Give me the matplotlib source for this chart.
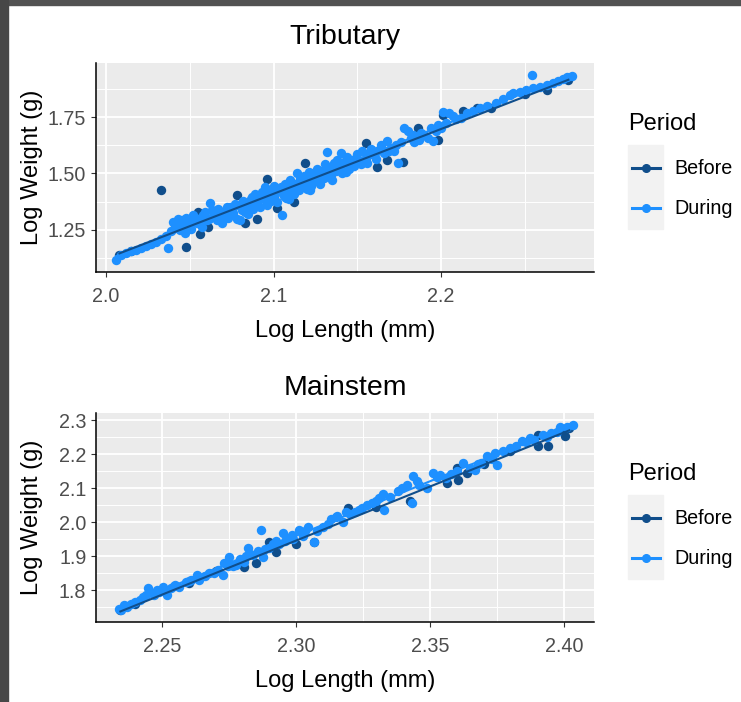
import matplotlib
matplotlib.use("Agg")
import matplotlib.pyplot as plt
from matplotlib.patches import Rectangle
from matplotlib.lines import Line2D
import numpy as np

plt.rcParams["font.family"] = ["Liberation Sans", "DejaVu Sans"]

# --- data (log10 length / log10 weight) ---
trib_during_x = [2.006, 2.009, 2.012, 2.015, 2.018, 2.021, 2.024, 2.027, 2.030, 2.033, 2.036, 2.037,
                 2.039, 2.040, 2.041, 2.043, 2.044, 2.046, 2.047, 2.048, 2.050, 2.051, 2.052, 2.054,
                 2.055, 2.057, 2.058, 2.060, 2.062, 2.063, 2.064, 2.066, 2.067, 2.068, 2.069, 2.071,
                 2.073, 2.074, 2.076, 2.077, 2.078, 2.080, 2.081, 2.082, 2.084, 2.085, 2.086, 2.087,
                 2.088, 2.089, 2.090, 2.091, 2.092, 2.093, 2.094, 2.095, 2.096, 2.097, 2.098, 2.099,
                 2.100, 2.101, 2.102, 2.103, 2.104, 2.105, 2.106, 2.107, 2.108, 2.109, 2.110, 2.111,
                 2.112, 2.113, 2.114, 2.115, 2.116, 2.117, 2.118, 2.119, 2.120, 2.121, 2.122, 2.123,
                 2.124, 2.125, 2.126, 2.127, 2.128, 2.129, 2.130, 2.131, 2.132, 2.133, 2.134, 2.135,
                 2.136, 2.137, 2.138, 2.139, 2.140, 2.141, 2.142, 2.144, 2.145, 2.147, 2.148, 2.150,
                 2.151, 2.153, 2.155, 2.156, 2.158, 2.160, 2.162, 2.164, 2.166, 2.168, 2.170, 2.172,
                 2.174, 2.176, 2.178, 2.180, 2.182, 2.184, 2.186, 2.188, 2.190, 2.192, 2.195, 2.197,
                 2.198, 2.200, 2.201, 2.203, 2.205, 2.207, 2.209, 2.212, 2.2155, 2.219, 2.223, 2.2275,
                 2.233, 2.237, 2.241, 2.243, 2.247, 2.251, 2.254, 2.255, 2.259, 2.263, 2.267, 2.270,
                 2.273, 2.275, 2.278,
                 2.0425, 2.0455, 2.049, 2.053, 2.056, 2.059, 2.0615, 2.065, 2.070, 2.072, 2.075,
                 2.079, 2.083, 2.0865, 2.0895, 2.0925, 2.0955, 2.0985, 2.1015, 2.1045, 2.1075,
                 2.1105, 2.1135, 2.1165, 2.1195, 2.1225, 2.1255, 2.1285, 2.1315, 2.1345, 2.1375,
                 2.1405, 2.1435, 2.146, 2.149, 2.152, 2.157, 2.161, 2.165, 2.169, 2.173, 2.183,
                 2.187, 2.194]
trib_during_y = [1.117, 1.140, 1.148, 1.155, 1.163, 1.172, 1.180, 1.190, 1.198, 1.210, 1.222, 1.170,
                 1.245, 1.285, 1.262, 1.300, 1.250, 1.272, 1.235, 1.305, 1.290, 1.255, 1.315, 1.282,
                 1.300, 1.262, 1.318, 1.295, 1.370, 1.340, 1.310, 1.295, 1.345, 1.325, 1.280, 1.335,
                 1.305, 1.350, 1.325, 1.365, 1.300, 1.295, 1.340, 1.380, 1.355, 1.320, 1.370, 1.395,
                 1.345, 1.410, 1.375, 1.395, 1.350, 1.420, 1.385, 1.440, 1.360, 1.405, 1.425, 1.390,
                 1.445, 1.410, 1.375, 1.430, 1.427, 1.316, 1.400, 1.455, 1.420, 1.385, 1.470, 1.440,
                 1.410, 1.455, 1.500, 1.425, 1.475, 1.445, 1.490, 1.460, 1.430, 1.505, 1.427, 1.480,
                 1.500, 1.465, 1.520, 1.490, 1.455, 1.510, 1.480, 1.540, 1.595, 1.500, 1.525, 1.470,
                 1.545, 1.510, 1.560, 1.530, 1.590, 1.500, 1.550, 1.575, 1.520, 1.560, 1.535, 1.585,
                 1.555, 1.600, 1.570, 1.545, 1.610, 1.580, 1.600, 1.625, 1.590, 1.645, 1.615, 1.600,
                 1.547, 1.640, 1.700, 1.690, 1.655, 1.640, 1.665, 1.680, 1.670, 1.657, 1.645, 1.690,
                 1.715, 1.700, 1.770, 1.725, 1.767, 1.754, 1.740, 1.745, 1.768, 1.775, 1.790, 1.800,
                 1.810, 1.830, 1.847, 1.856, 1.862, 1.870, 1.936, 1.877, 1.883, 1.893, 1.900, 1.910,
                 1.918, 1.925, 1.930,
                 1.275, 1.292, 1.262, 1.302, 1.285, 1.330, 1.300, 1.322, 1.318, 1.352, 1.340,
                 1.362, 1.330, 1.385, 1.360, 1.392, 1.415, 1.378, 1.428, 1.442, 1.392,
                 1.455, 1.432, 1.462, 1.478, 1.445, 1.488, 1.475, 1.512, 1.495, 1.528,
                 1.522, 1.505, 1.548, 1.570, 1.540, 1.588, 1.565, 1.605, 1.600, 1.625, 1.672,
                 1.650, 1.700]
trib_before_x = [2.008, 2.015, 2.033, 2.048, 2.055, 2.056, 2.061, 2.070, 2.078, 2.083, 2.090, 2.096,
                 2.100, 2.102, 2.112, 2.119, 2.130, 2.145, 2.155, 2.162, 2.168, 2.177, 2.186, 2.190,
                 2.198, 2.201, 2.213, 2.2215, 2.230, 2.250, 2.263, 2.276]
trib_before_y = [1.140, 1.158, 1.427, 1.175, 1.330, 1.230, 1.265, 1.330, 1.405, 1.280, 1.300, 1.475,
                 1.400, 1.347, 1.374, 1.546, 1.490, 1.540, 1.635, 1.530, 1.560, 1.550, 1.700, 1.670,
                 1.650, 1.760, 1.775, 1.790, 1.790, 1.850, 1.870, 1.912]

main_during_x = [2.2340, 2.2348, 2.2358, 2.2370, 2.2385, 2.2400, 2.2420, 2.2440, 2.2448, 2.2455,
                 2.2470, 2.2490, 2.2504, 2.2512, 2.2520, 2.2535, 2.2550, 2.2565, 2.2590, 2.2610,
                 2.2630, 2.2640, 2.2660, 2.2694, 2.2710, 2.2728, 2.2730, 2.2750, 2.2765, 2.2776,
                 2.2790, 2.2806, 2.2820, 2.2830, 2.2840, 2.2860, 2.2870, 2.2877, 2.2900, 2.2915,
                 2.2937, 2.2950, 2.2960, 2.2974, 2.2990, 2.3010, 2.3025, 2.3045, 2.3067, 2.3080,
                 2.3100, 2.3120, 2.3150, 2.3153, 2.3175, 2.3200, 2.3220, 2.3246, 2.3265, 2.3284,
                 2.3300, 2.3325, 2.3330, 2.3350, 2.3380, 2.3414, 2.3433, 2.3437, 2.3460, 2.3490,
                 2.3511, 2.3537, 2.3560, 2.3580, 2.3623, 2.3650, 2.3668, 2.3690, 2.3713, 2.3743,
                 2.3750, 2.3772, 2.3799, 2.3820, 2.3843, 2.3873, 2.3890, 2.3920, 2.3950, 2.3974,
                 2.3985, 2.4010, 2.4034,
                 2.2365, 2.2430, 2.2480, 2.2545, 2.2600, 2.2675, 2.2745, 2.2815, 2.2885, 2.2925,
                 2.2985, 2.3035, 2.3130, 2.3185, 2.3235, 2.3310, 2.3395, 2.3450, 2.3525, 2.3600,
                 2.3680, 2.3730, 2.3860, 2.3935]
main_during_y = [1.745, 1.740, 1.757, 1.750, 1.760, 1.765, 1.772, 1.785, 1.807, 1.795,
                 1.785, 1.795, 1.810, 1.800, 1.786, 1.805, 1.815, 1.810, 1.825, 1.830,
                 1.845, 1.830, 1.840, 1.851, 1.860, 1.845, 1.880, 1.898, 1.870, 1.874,
                 1.890, 1.883, 1.925, 1.905, 1.904, 1.915, 1.977, 1.898, 1.925, 1.935,
                 1.934, 1.969, 1.945, 1.954, 1.950, 1.978, 1.960, 1.986, 1.942, 1.975,
                 1.986, 1.995, 2.016, 2.018, 2.001, 2.025, 2.030, 2.042, 2.050, 2.057,
                 2.063, 2.081, 2.036, 2.075, 2.090, 2.110, 2.057, 2.136, 2.110, 2.101,
                 2.145, 2.139, 2.130, 2.140, 2.174, 2.160, 2.154, 2.175, 2.195, 2.204,
                 2.168, 2.209, 2.218, 2.225, 2.239, 2.248, 2.240, 2.255, 2.262, 2.266,
                 2.278, 2.280, 2.284,
                 1.752, 1.780, 1.800, 1.812, 1.828, 1.850, 1.872, 1.900, 1.920, 1.945,
                 1.962, 1.975, 2.008, 2.030, 2.035, 2.070, 2.100, 2.120, 2.132, 2.150,
                 2.170, 2.185, 2.235, 2.250]
main_before_x = [2.2345, 2.2400, 2.2600, 2.2700, 2.2806, 2.2850, 2.2900, 2.2925, 2.3000, 2.3067,
                 2.3194, 2.3300, 2.3425, 2.3563, 2.3601, 2.3605, 2.3638, 2.3700, 2.3800, 2.3903,
                 2.3903, 2.3940, 2.3996, 2.4004, 2.4020]
main_before_y = [1.742, 1.760, 1.820, 1.855, 1.869, 1.880, 1.942, 1.913, 1.934, 1.942,
                 2.042, 2.045, 2.063, 2.115, 2.160, 2.124, 2.145, 2.170, 2.210, 2.224,
                 2.257, 2.224, 2.269, 2.254, 2.276]

period_labels = ["Before", "During"]
period_colors = ["#104E8B", "#1E90FF"]

W, H = 741, 702


def fx(px):
    return px / W


def fy(py):
    return 1 - py / H


fig = plt.figure(figsize=(W / 100, H / 100), dpi=100)
fig.patch.set_facecolor("white")

# dark screenshot frame on top / left edge
fig.add_artist(Rectangle((0, fy(5)), 1, 5 / H, transform=fig.transFigure, color="#525252", zorder=10))
fig.add_artist(Rectangle((0, 0), 8 / W, 1, transform=fig.transFigure, color="#474747", zorder=10))


def panel(top_px, title, xs, ys, xlim, ylim, xmaj, xmin, ymaj, ymin, xfmt, yfmt):
    ax = fig.add_axes([fx(96), fy(top_px + 209), 498 / W, 209 / H])
    ax.set_facecolor("#EBEBEB")
    for s in ["top", "right"]:
        ax.spines[s].set_visible(False)
    for s in ["left", "bottom"]:
        ax.spines[s].set_color("black")
        ax.spines[s].set_linewidth(1.1)
    ax.set_xlim(*xlim)
    ax.set_ylim(*ylim)
    ax.set_xticks(xmaj)
    ax.set_xticks(xmin, minor=True)
    ax.set_yticks(ymaj)
    ax.set_yticks(ymin, minor=True)
    ax.set_xticklabels([xfmt.format(v) for v in xmaj])
    ax.set_yticklabels([yfmt.format(v) for v in ymaj])
    ax.grid(which="major", color="white", linewidth=1.3)
    ax.grid(which="minor", color="white", linewidth=0.7)
    ax.set_axisbelow(True)
    ax.tick_params(which="major", length=3.6, width=0.8, color="#333333",
                   labelcolor="#4D4D4D", labelsize=14.2)
    ax.tick_params(axis="x", which="major", pad=7)
    ax.tick_params(axis="y", which="major", pad=3.4)
    ax.tick_params(which="minor", length=0)

    # points: Before underneath, During on top
    for (x, y), c in zip(zip(xs, ys), period_colors):
        ax.scatter(x, y, s=46, color=c, linewidths=0, zorder=2)
    # lm fit per period, During first so Before line sits on top
    for (x, y), c in reversed(list(zip(zip(xs, ys), period_colors))):
        x = np.asarray(x)
        k, b = np.polyfit(x, np.asarray(y), 1)
        xx = np.array([x.min(), x.max()])
        ax.plot(xx, k * xx + b, color=c, linewidth=1.5, zorder=3)

    fig.text(fx(345), fy(top_px - 19 if top_px < 100 else top_px - 18), title,
             ha="center", va="baseline", fontsize=20.5, color="black")
    fig.text(fx(345), fy(top_px + 274), "Log Length (mm)",
             ha="center", va="baseline", fontsize=17, color="black")
    fig.text(fx(32), fy(top_px + 104.5), "Log Weight (g)", rotation=90,
             ha="center", va="center", fontsize=17, color="black")

    # legend, ggplot style
    fig.text(fx(628), fy(top_px + 67), "Period", ha="left", va="baseline", fontsize=17)
    fig.add_artist(Rectangle((fx(628), fy(top_px + 166)), 35 / W, 84 / H,
                             transform=fig.transFigure, color="#F2F2F2", zorder=1))
    for i, (lab, c) in enumerate(zip(period_labels, period_colors)):
        yc = top_px + 105 + 40 * i
        fig.add_artist(Line2D([fx(632), fx(660)], [fy(yc), fy(yc)], transform=fig.transFigure,
                              color=c, linewidth=2.2, zorder=2))
        fig.add_artist(Line2D([fx(646)], [fy(yc)], transform=fig.transFigure,
                              color=c, marker="o", markersize=5.5, linestyle="none", zorder=3))
        fig.text(fx(674), fy(yc), lab, ha="left", va="center", fontsize=14.2)
    return ax


panel(63, "Tributary",
      [trib_before_x, trib_during_x], [trib_before_y, trib_during_y],
      (1.994, 2.2913), (1.064, 1.989),
      [2.0, 2.1, 2.2], [2.05, 2.15, 2.25],
      [1.25, 1.50, 1.75], [1.125, 1.375, 1.625, 1.875],
      "{:.1f}", "{:.2f}")

panel(413, "Mainstem",
      [main_before_x, main_during_x], [main_before_y, main_during_y],
      (2.2254, 2.4112), (1.706, 2.3206),
      [2.25, 2.30, 2.35, 2.40], [2.275, 2.325, 2.375],
      [1.8, 1.9, 2.0, 2.1, 2.2, 2.3], [1.75, 1.85, 1.95, 2.05, 2.15, 2.25],
      "{:.2f}", "{:.1f}")

fig.savefig("out.png", dpi=100)
